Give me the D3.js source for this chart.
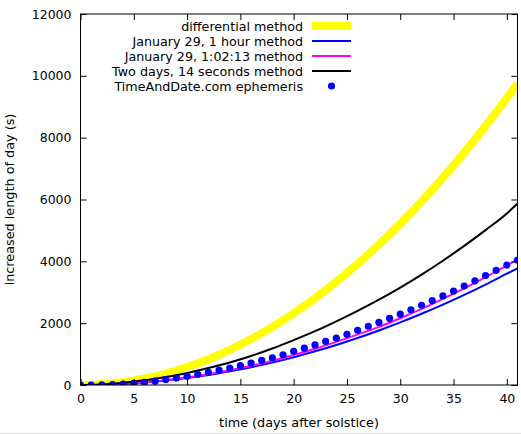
<!DOCTYPE html>
<html>
<head>
<meta charset="utf-8">
<script src="https://cdnjs.cloudflare.com/ajax/libs/d3/7.8.5/d3.min.js"></script>
<style>
  body { margin: 0; background: #fff; }
  text { font-family: "DejaVu Sans", sans-serif; fill: #000; }
</style>
</head>
<body>
<div id="chart"></div>
<script>
// data (days after solstice, seconds)
var curveDays = [0, 2, 4, 6, 8, 10, 12, 14, 16, 18, 20, 22, 24, 26, 28, 30, 32, 34, 36, 38, 40, 41];
var differential = [0, 23, 93, 209, 371, 580, 835, 1137, 1485, 1879, 2320, 2807, 3341, 3921, 4547, 5220, 5939, 6705, 7517, 8375, 9280, 9750];
var jan29OneHour = [0, 9, 36, 81, 144, 225, 324, 441, 576, 729, 900, 1089, 1296, 1521, 1764, 2025, 2304, 2601, 2916, 3249, 3600, 3775];
var jan29Exact = [0, 10, 39, 87, 155, 242, 348, 474, 620, 784, 968, 1171, 1394, 1636, 1880, 2160, 2460, 2785, 3125, 3490, 3865, 4060];
var twoDays = [0, 20, 70, 150, 260, 390, 550, 730, 940, 1180, 1450, 1740, 2060, 2400, 2760, 3150, 3570, 4020, 4500, 5010, 5550, 5870];

var ephemDays = d3.range(0, 42);
var ephemeris = [0, 0, 5, 15, 30, 55, 85, 125, 175, 225, 285, 345, 410, 480, 550, 625, 710, 800, 880, 975,
  1090, 1190, 1295, 1410, 1515, 1640, 1770, 1900, 2025, 2155, 2290, 2430, 2580, 2730, 2880, 3040, 3200, 3370, 3540, 3710, 3880, 4040];

var xTicks = [0, 5, 10, 15, 20, 25, 30, 35, 40];
var yTicks = [0, 2000, 4000, 6000, 8000, 10000, 12000];

var series = [
  { label: "differential method", values: differential, color: "#ffff00", width: 8 },
  { label: "January 29, 1 hour method", values: jan29OneHour, color: "#0000ff", width: 2 },
  { label: "January 29, 1:02:13 method", values: jan29Exact, color: "#ff00ff", width: 2 },
  { label: "Two days, 14 seconds method", values: twoDays, color: "#000000", width: 2 }
];

var svgWidth = 521;
var svgHeight = 434;
var margin = { top: 14, right: 3.5, bottom: 49, left: 80.5 };
var width = svgWidth - margin.left - margin.right;
var height = svgHeight - margin.top - margin.bottom;

var svg = d3.select("#chart")
  .append("svg")
  .attr("width", svgWidth)
  .attr("height", svgHeight);

// faint strip at the very bottom of the picture
svg.append("line")
  .attr("x1", 0).attr("x2", svgWidth)
  .attr("y1", 433.5).attr("y2", 433.5)
  .attr("stroke", "#d9d9d9");

var chartGroup = svg.append("g")
  .attr("transform", `translate(${margin.left}, ${margin.top})`);

var x = d3.scaleLinear().domain([0, 41]).range([0, width]);
var y = d3.scaleLinear().domain([0, 12000]).range([height, 0]);

chartGroup.append("clipPath").attr("id", "plotclip")
  .append("rect").attr("width", width).attr("height", height);

// curves
var line = d3.line()
  .x(d => x(d[0]))
  .y(d => y(d[1]))
  .curve(d3.curveMonotoneX);

var plot = chartGroup.append("g").attr("clip-path", "url(#plotclip)");

series.forEach(function (s) {
  plot.append("path")
    .datum(curveDays.map((d, i) => [d, s.values[i]]))
    .attr("fill", "none")
    .attr("stroke", s.color)
    .attr("stroke-width", s.width)
    .attr("d", line);
});

plot.selectAll("circle.ephem")
  .data(ephemDays.map((d, i) => [d, ephemeris[i]]))
  .enter()
  .append("circle")
  .attr("class", "ephem")
  .attr("cx", d => x(d[0]))
  .attr("cy", d => y(d[1]))
  .attr("r", 3.6)
  .attr("fill", "#0000ff");

// axes: inward ticks on all four sides, gnuplot style
var tickLen = 6;
var xAxis = d3.axisBottom(x).tickValues(xTicks).tickSize(-tickLen).tickPadding(9).tickFormat(d3.format("d"));
var yAxis = d3.axisLeft(y).tickValues(yTicks).tickSize(-tickLen).tickPadding(9).tickFormat(d3.format("d"));

var gx = chartGroup.append("g")
  .attr("transform", `translate(0, ${height})`)
  .call(xAxis);
var gy = chartGroup.append("g").call(yAxis);
var gxTop = chartGroup.append("g").call(d3.axisTop(x).tickValues(xTicks).tickSize(-tickLen).tickFormat(""));
var gyRight = chartGroup.append("g")
  .attr("transform", `translate(${width}, 0)`)
  .call(d3.axisRight(y).tickValues(yTicks).tickSize(-tickLen).tickFormat(""));

[gx, gy, gxTop, gyRight].forEach(function (g) {
  g.select(".domain").remove();
  g.selectAll(".tick line").attr("stroke", "#000");
  g.selectAll("text").attr("font-family", "DejaVu Sans").attr("font-size", "12.5px").attr("fill", "#000");
});

chartGroup.append("rect")
  .attr("width", width)
  .attr("height", height)
  .attr("fill", "none")
  .attr("stroke", "#000");

// axis labels
chartGroup.append("text")
  .attr("transform", "rotate(-90)")
  .attr("x", -height / 2)
  .attr("y", 14 - margin.left)
  .attr("text-anchor", "middle")
  .attr("font-size", "12.8px")
  .text("increased length of day (s)");

chartGroup.append("text")
  .attr("x", width / 2)
  .attr("y", height + 42)
  .attr("text-anchor", "middle")
  .attr("font-size", "12.8px")
  .text("time (days after solstice)");

// legend
var legend = svg.append("g");
var legendRows = series.map(s => ({ label: s.label, color: s.color, width: s.width, dot: false }))
  .concat([{ label: "TimeAndDate.com ephemeris", color: "#0000ff", dot: true }]);

legendRows.forEach(function (r, i) {
  var cy = 26 + i * 15;
  legend.append("text")
    .attr("x", 303)
    .attr("y", cy)
    .attr("dy", "0.36em")
    .attr("text-anchor", "end")
    .attr("font-size", "12.7px")
    .text(r.label);
  if (r.dot) {
    legend.append("circle")
      .attr("cx", 331.5).attr("cy", cy).attr("r", 3.6)
      .attr("fill", r.color);
  } else {
    legend.append("line")
      .attr("x1", 312).attr("x2", 351)
      .attr("y1", cy).attr("y2", cy)
      .attr("stroke", r.color)
      .attr("stroke-width", r.width);
  }
});
</script>
</body>
</html>
